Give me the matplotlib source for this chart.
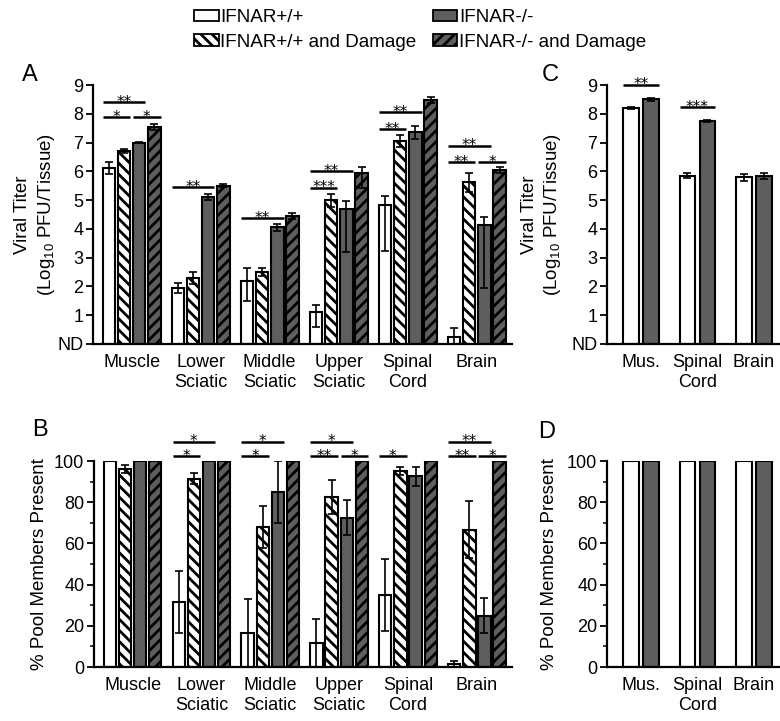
import numpy as np
import matplotlib
matplotlib.use("Agg")
import matplotlib.pyplot as plt
from matplotlib.patches import Patch
from matplotlib.ticker import MultipleLocator

plt.rcParams['font.family'] = ['Liberation Sans', 'DejaVu Sans']
plt.rcParams['mathtext.default'] = 'regular'
plt.rcParams['hatch.linewidth'] = 2.0

# ---- data ----
groups = ["IFNAR+/+", "IFNAR+/+ and Damage", "IFNAR-/-", "IFNAR-/- and Damage"]
tissues_ab = ["Muscle", "Lower\nSciatic", "Middle\nSciatic", "Upper\nSciatic",
              "Spinal\nCord", "Brain"]
tissues_cd = ["Mus.", "Spinal\nCord", "Brain"]

# panel A: viral titer (log10 PFU/tissue), one row per group
titer_a = [[6.12, 1.95, 2.20, 1.12, 4.83, 0.24],
           [6.70, 2.30, 2.50, 5.00, 7.05, 5.63],
           [7.00, 5.10, 4.05, 4.70, 7.36, 4.13],
           [7.55, 5.50, 4.45, 5.93, 8.47, 6.04]]
titer_a_hi = [[0.20, 0.17, 0.45, 0.23, 0.30, 0.30],
              [0.07, 0.20, 0.15, 0.22, 0.20, 0.30],
              [0.03, 0.10, 0.12, 0.28, 0.20, 0.30],
              [0.10, 0.05, 0.10, 0.22, 0.12, 0.10]]
titer_a_lo = [[0.20, 0.17, 0.70, 0.52, 1.60, 0.24],
              [0.07, 0.20, 0.15, 0.25, 0.20, 0.35],
              [0.03, 0.10, 0.12, 1.50, 0.25, 2.20],
              [0.10, 0.05, 0.10, 0.50, 0.10, 0.10]]

# panel B: % pool members present
pool_b = [[100, 31.5, 16.7, 11.7, 35.0, 1.5],
          [96, 91.3, 68.0, 82.5, 95.0, 66.7],
          [100, 100, 85.0, 72.5, 92.5, 25.0],
          [100, 100, 100, 100, 100, 100]]
pool_b_err = [[0, 15.0, 16.5, 11.7, 17.5, 1.5],
              [2, 2.7, 10.0, 8.3, 2.0, 14.0],
              [0, 0, 15.0, 8.5, 4.5, 8.5],
              [0, 0, 0, 0, 0, 0]]

# panel C: viral titer, IFNAR+/+ vs IFNAR-/-
titer_c = [[8.20, 5.85, 5.80],
           [8.50, 7.75, 5.85]]
titer_c_err = [[0.03, 0.08, 0.12],
               [0.05, 0.05, 0.10]]

# panel D: % pool members present
pool_d = [[100, 100, 100],
          [100, 100, 100]]

# significance marks: (tissue, first bar, last bar, height, label)
sig_a = [(0, 0, 2, 8.40, '**'), (0, 0, 1, 7.88, '*'), (0, 2, 3, 7.88, '*'),
         (1, 0, 2, 5.45, '**'), (2, 0, 2, 4.37, '**'),
         (3, 0, 2, 6.00, '**'), (3, 0, 1, 5.42, '***'),
         (4, 0, 2, 8.05, '**'), (4, 0, 1, 7.46, '**'),
         (5, 0, 2, 6.88, '**'), (5, 0, 1, 6.32, '**'), (5, 2, 3, 6.32, '*')]
sig_b = [(1, 0, 2, 109.4, '*'), (1, 0, 1, 102.4, '*'),
         (2, 0, 2, 109.4, '*'), (2, 0, 1, 102.4, '*'),
         (3, 0, 2, 109.4, '*'), (3, 0, 1, 102.4, '**'), (3, 2, 3, 102.4, '*'),
         (4, 0, 1, 102.4, '*'),
         (5, 0, 2, 109.4, '**'), (5, 0, 1, 102.4, '**'), (5, 2, 3, 102.4, '*')]
sig_c = [(0, 0, 1, 9.0, '**'), (1, 0, 1, 8.23, '***')]

# ---- styles ----
DARK = '#5e5e5e'
faces = ['white', 'white', DARK, DARK]
hatches = [None, '\\\\\\', None, '///']

W, H = 780, 721
fig = plt.figure(figsize=(W / 100, H / 100), dpi=100)


def px_axes(x0, y0, x1, y1):
    return fig.add_axes([x0 / W, 1 - y1 / H, (x1 - x0) / W, (y1 - y0) / H])


axA = px_axes(93, 85, 512, 344)
axC = px_axes(607, 85, 780, 344)
axB = px_axes(94, 461, 512, 667)
axD = px_axes(607, 461, 780, 667)


def style_axes(ax):
    for s in ['top', 'right']:
        ax.spines[s].set_visible(False)
    ax.spines['left'].set_linewidth(1.6)
    ax.spines['bottom'].set_linewidth(1.6)
    ax.tick_params(axis='y', direction='out', length=5, width=1.3,
                   labelsize=13, pad=2)
    ax.tick_params(axis='y', which='minor', length=3, width=1.1)
    ax.tick_params(axis='x', length=0, labelsize=13, pad=7)


def draw_bars(ax, vals, lo, hi, offs, width, styles):
    x = np.arange(len(vals[0]))
    for k, (fc, ht) in enumerate(styles):
        v = np.array(vals[k], dtype=float)
        ax.bar(x + offs[k], v, width, color=fc, edgecolor='black',
               hatch=ht, linewidth=1.5, zorder=2)
        if lo is not None:
            ax.errorbar(x + offs[k], v, yerr=[lo[k], hi[k]], fmt='none',
                        ecolor='black', elinewidth=1.2, capsize=3,
                        capthick=1.2, zorder=3)


def draw_sig(ax, marks, offs, width):
    for t, i, j, y, lab in marks:
        x0 = t + offs[i] - width / 2
        x1 = t + offs[j] + width / 2
        ax.plot([x0, x1], [y, y], color='black', lw=1.8, clip_on=False,
                solid_capstyle='butt', zorder=4)
        ax.annotate(lab, xy=((x0 + x1) / 2, y), xytext=(0, -3.2),
                    textcoords='offset points', ha='center', va='baseline',
                    fontsize=11, family='DejaVu Sans', annotation_clip=False)


offs4 = [-0.33, -0.11, 0.11, 0.33]
w4 = 0.18
offs2 = [-0.177, 0.177]
w2 = 0.27

# panel A
draw_bars(axA, titer_a, titer_a_lo, titer_a_hi, offs4, w4,
          list(zip(faces, hatches)))
draw_sig(axA, sig_a, offs4, w4)
axA.set_xlim(-0.56, 5.51)
axA.set_ylim(0, 9)
axA.set_yticks(range(10))
axA.set_yticklabels(['ND'] + [str(i) for i in range(1, 10)])

# panel B
draw_bars(axB, pool_b, pool_b_err, pool_b_err, offs4, w4,
          list(zip(faces, hatches)))
draw_sig(axB, sig_b, offs4, w4)
axB.set_xlim(-0.56, 5.51)
axB.set_ylim(0, 100)
axB.yaxis.set_major_locator(MultipleLocator(20))
axB.yaxis.set_minor_locator(MultipleLocator(10))

# panel C
draw_bars(axC, titer_c, titer_c_err, titer_c_err, offs2, w2,
          [('white', None), (DARK, None)])
draw_sig(axC, sig_c, offs2, w2)
axC.set_xlim(-0.6, 2.46)
axC.set_ylim(0, 9)
axC.set_yticks(range(10))
axC.set_yticklabels(['ND'] + [str(i) for i in range(1, 10)])

# panel D
draw_bars(axD, pool_d, None, None, offs2, w2,
          [('white', None), (DARK, None)])
axD.set_xlim(-0.6, 2.46)
axD.set_ylim(0, 100)
axD.yaxis.set_major_locator(MultipleLocator(20))
axD.yaxis.set_minor_locator(MultipleLocator(10))

for ax, names in [(axA, tissues_ab), (axB, tissues_ab),
                  (axC, tissues_cd), (axD, tissues_cd)]:
    style_axes(ax)
    ax.set_xticks(np.arange(len(names)))
    ax.set_xticklabels(names, linespacing=1.25)

titer_label = "Viral Titer\n(Log$_{10}$ PFU/Tissue)"
pool_label = "% Pool Members Present"
axA.set_ylabel(titer_label, fontsize=13.5, linespacing=1.3)
axA.yaxis.set_label_coords(-0.086, 0.5)
axC.set_ylabel(titer_label, fontsize=13.5, linespacing=1.3)
axC.yaxis.set_label_coords(-0.254, 0.5)
axB.set_ylabel(pool_label, fontsize=13.5)
axB.yaxis.set_label_coords(-0.11, 0.5)
axD.set_ylabel(pool_label, fontsize=13.5)
axD.yaxis.set_label_coords(-0.283, 0.5)

# panel letters
for lab, x, y in [('A', 30, 75), ('C', 550, 75), ('B', 40, 430), ('D', 547, 432)]:
    fig.text(x / W, 1 - y / H, lab, fontsize=17, ha='center', va='center')

# legend
handles = [Patch(facecolor=fc, edgecolor='black', hatch=ht, linewidth=1.3)
           for fc, ht in zip(faces, hatches)]
fig.legend(handles, groups, loc='upper left', bbox_to_anchor=(194 / W, 1 - 9 / H),
           ncol=2, frameon=False, fontsize=13.6, handlelength=1.3,
           handleheight=0.55, handletextpad=0.1, columnspacing=0.85,
           labelspacing=0.4, borderpad=0, borderaxespad=0)

fig.savefig("out.png", dpi=100)
